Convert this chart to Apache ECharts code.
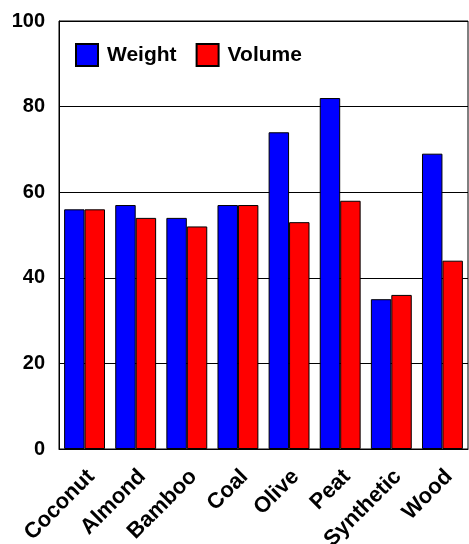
<!DOCTYPE html>
<html>
<head>
<meta charset="utf-8">
<script src="https://cdn.jsdelivr.net/npm/echarts@6/dist/echarts.min.js"></script>
<style>
  html, body { margin: 0; padding: 0; background: #fff; }
  #chart { width: 469px; height: 544px; }
</style>
</head>
<body>
<div id="chart"></div>
<script>
// Absorbent materials compared by weight and by volume
const categories = ['Coconut', 'Almond', 'Bamboo', 'Coal', 'Olive', 'Peat', 'Synthetic', 'Wood'];
const weightValues = [56, 57, 54, 57, 74, 82, 35, 69];
const volumeValues = [56, 54, 52, 57, 53, 58, 36, 44];
const yTicks = [0, 20, 40, 60, 80, 100];

const font = 'Arial, "Liberation Sans", sans-serif';
const chart = echarts.init(document.getElementById('chart'));

chart.setOption({
  animation: false,
  backgroundColor: '#fff',
  grid: {
    left: 59, right: 1, top: 21, bottom: 95,
    outerBoundsMode: 'none', containLabel: false,
    show: true, borderColor: '#000', borderWidth: 1, backgroundColor: 'transparent'
  },
  legend: {
    left: 70, top: 38,
    itemWidth: 22, itemHeight: 22, itemGap: 19,
    icon: 'rect',
    textStyle: { fontFamily: font, fontWeight: 'bold', fontSize: 21, color: '#000', padding: [0, 0, 0, 4] },
    data: ['Weight', 'Volume']
  },
  xAxis: {
    type: 'category',
    data: categories,
    axisLine: { lineStyle: { color: '#000', width: 1 } },
    axisTick: { show: false },
    axisLabel: {
      rotate: 45, margin: 9, interval: 0,
      verticalAlign: 'top', lineHeight: 31,
      // trailing space keeps the rotated label's end just right of the group centre
      formatter: (v) => v + ' ',
      fontFamily: font, fontWeight: 'bold', fontSize: 22, color: '#000'
    }
  },
  yAxis: {
    type: 'value',
    min: yTicks[0], max: yTicks[yTicks.length - 1], interval: 20,
    axisLine: { show: true, lineStyle: { color: '#000', width: 1 } },
    axisTick: { show: false },
    splitLine: { lineStyle: { color: '#000', width: 1 } },
    axisLabel: { margin: 14, fontFamily: font, fontWeight: 'bold', fontSize: 20, color: '#000' }
  },
  series: [
    {
      name: 'Weight', type: 'bar', data: weightValues,
      barWidth: '40%', barGap: '0%',
      itemStyle: { color: '#0000ff', borderColor: '#000', borderWidth: 1 }
    },
    {
      name: 'Volume', type: 'bar', data: volumeValues,
      barWidth: '40%', barGap: '0%',
      itemStyle: { color: '#ff0000', borderColor: '#000', borderWidth: 1 }
    }
  ]
});
</script>
</body>
</html>
